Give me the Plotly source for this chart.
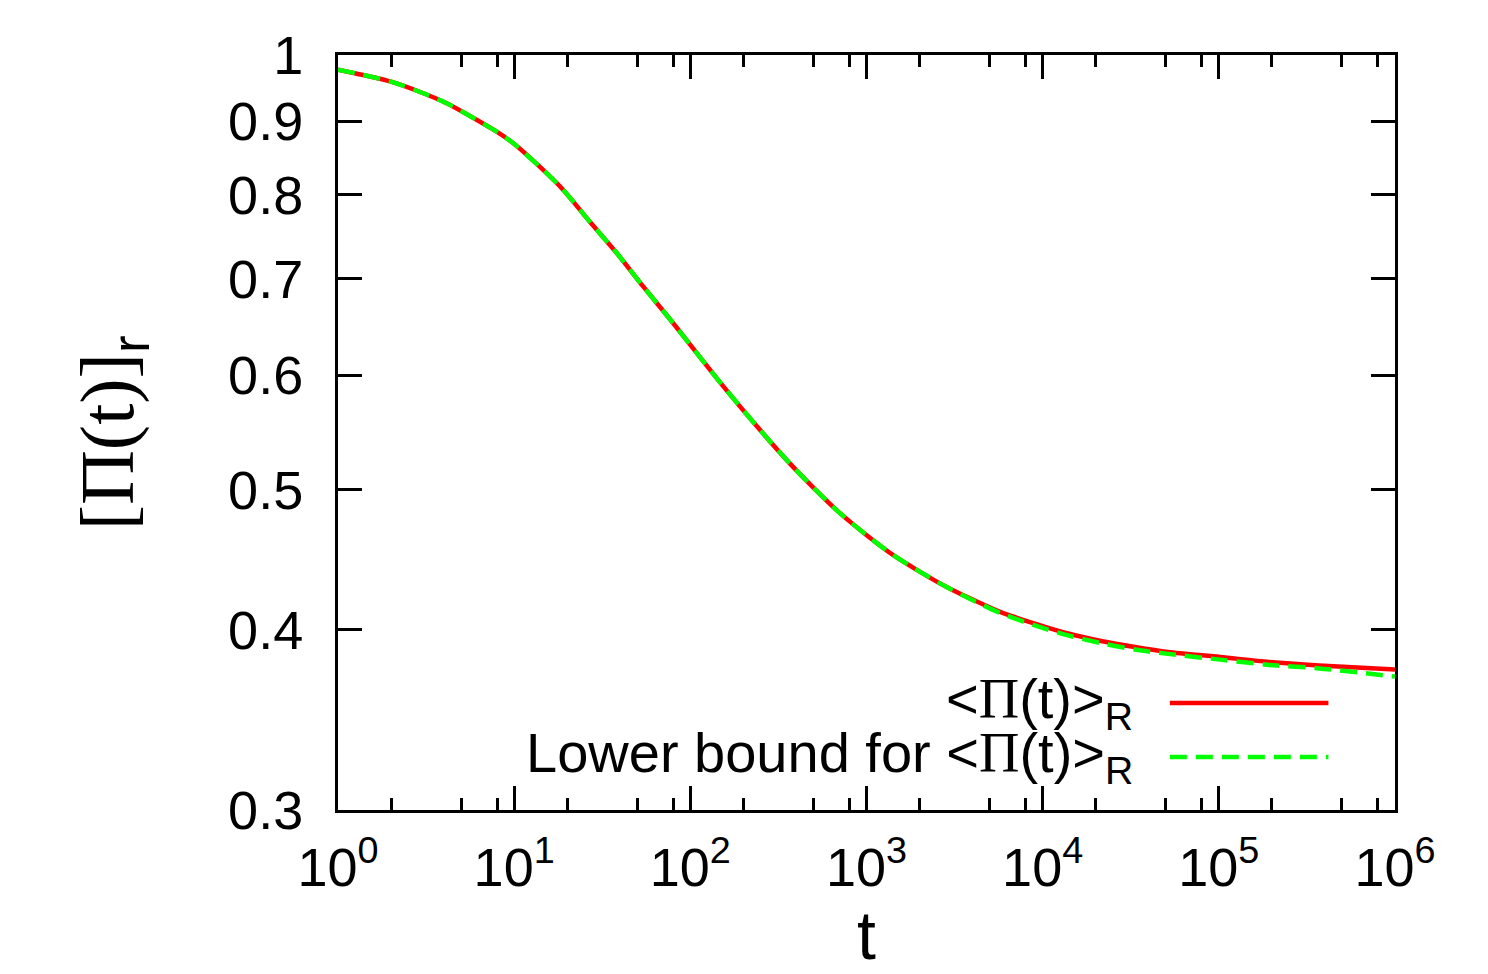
import plotly.graph_objects as go

# ---- data ----
t_vals = [1, 1.39, 2, 3.05, 4.14, 5.61, 7.96, 9.89, 14.6, 19, 26.9, 38.2, 54.1, 76.7,
          144, 238, 368, 499, 707, 1002, 1419, 2014, 2851, 4036, 5781, 8933,
          13930, 21430, 33420, 51440, 101600, 192800, 370400, 1000000]
pi_mean = [0.977, 0.9686, 0.9583, 0.9408, 0.9259, 0.9073, 0.8849, 0.8686, 0.8325, 0.8064,
           0.7665, 0.7292, 0.6911, 0.6561, 0.5955, 0.5534, 0.5212, 0.5017, 0.4816,
           0.465, 0.4504, 0.4386, 0.4281, 0.4194, 0.4113, 0.4040, 0.3975, 0.3928, 0.389,
           0.3859, 0.3829, 0.3799, 0.3778, 0.3754]
pi_lower = [0.977, 0.9686, 0.9583, 0.9408, 0.9259, 0.9073, 0.8849, 0.8686, 0.8325, 0.8064,
            0.7665, 0.7292, 0.6911, 0.6561, 0.5955, 0.5534, 0.5212, 0.5017, 0.4816,
            0.465, 0.4504, 0.4386, 0.4281, 0.4190, 0.4106, 0.4028, 0.3963, 0.3915, 0.3875,
            0.3848, 0.3813, 0.3781, 0.376, 0.3711]

x_tickvals = [1, 10, 100, 1000, 10000, 100000, 1000000]
x_ticktext = ["10<sup>0</sup>", "10<sup>1</sup>", "10<sup>2</sup>", "10<sup>3</sup>",
              "10<sup>4</sup>", "10<sup>5</sup>", "10<sup>6</sup>"]
x_minor = [m * 10 ** k for k in range(6) for m in (2, 5, 8)]
y_tickvals = [0.3, 0.4, 0.5, 0.6, 0.7, 0.8, 0.9, 1]
y_ticktext = ["0.3", "0.4", "0.5", "0.6", "0.7", "0.8", "0.9", "1"]

label_mean = "&lt;<span style='font-family:Liberation Serif'>Π</span>(t)&gt;<sub>R</sub>"
label_lower = "Lower bound for &lt;<span style='font-family:Liberation Serif'>Π</span>(t)&gt;<sub>R</sub>"

RED = "#ff0000"
GREEN = "#00ff00"
FONT = "Liberation Sans"

fig = go.Figure()
fig.add_trace(go.Scatter(x=t_vals, y=pi_mean, mode="lines",
                         line=dict(color=RED, width=4.5, shape="spline", smoothing=0.8),
                         showlegend=False))
fig.add_trace(go.Scatter(x=t_vals, y=pi_lower, mode="lines",
                         line=dict(color=GREEN, width=4.5, dash="17px,9px", shape="spline", smoothing=0.8),
                         showlegend=False))

fig.update_layout(
    width=1488, height=974,
    margin=dict(l=330, r=101, t=47, b=172),
    paper_bgcolor="white", plot_bgcolor="white",
    font=dict(family=FONT, size=54, color="black"),
    showlegend=False,
)
fig.update_xaxes(
    type="log", range=[0, 6],
    tickmode="array", tickvals=x_tickvals, ticktext=x_ticktext,
    ticks="inside", ticklen=24, tickwidth=3, tickcolor="black",
    showline=True, linewidth=3, linecolor="black", mirror="allticks",
    showgrid=False, zeroline=False,
    minor=dict(tickvals=x_minor, ticks="inside", ticklen=12, tickwidth=3, tickcolor="black", showgrid=False),
    tickfont=dict(family=FONT, size=54),
    ticklabelstandoff=8,
    title=dict(text="t", font=dict(family=FONT, size=68), standoff=16),
)
fig.update_yaxes(
    type="log", range=[-0.52288, 0],
    tickmode="array", tickvals=y_tickvals, ticktext=y_ticktext,
    ticks="inside", ticklen=24, tickwidth=3, tickcolor="black",
    showline=True, linewidth=3, linecolor="black", mirror="allticks",
    showgrid=False, zeroline=False,
    tickfont=dict(family=FONT, size=54),
    ticklabelstandoff=21,
)

# y-axis title
fig.add_annotation(
    xref="paper", yref="paper", x=-0.213, y=0.5, xanchor="center", yanchor="middle",
    textangle=-90, showarrow=False,
    text="<span style='font-family:Liberation Serif'>[Π(t)]</span><sub>r</sub>",
    font=dict(family=FONT, size=76),
)

# legend (text left, sample right, as in the reference)
fig.add_annotation(xref="paper", yref="paper", x=0.754, y=0.142, xanchor="right", yanchor="middle",
                   showarrow=False, text=label_mean, font=dict(family=FONT, size=56))
fig.add_annotation(xref="paper", yref="paper", x=0.754, y=0.071, xanchor="right", yanchor="middle",
                   showarrow=False, text=label_lower, font=dict(family=FONT, size=56))
fig.add_shape(type="line", xref="paper", yref="paper", x0=0.787, x1=0.937, y0=0.1417, y1=0.1417,
              line=dict(color=RED, width=4.5))
fig.add_shape(type="line", xref="paper", yref="paper", x0=0.787, x1=0.937, y0=0.0702, y1=0.0702,
              line=dict(color=GREEN, width=4.5, dash="17px,9px"))

fig.write_html("out.html")
